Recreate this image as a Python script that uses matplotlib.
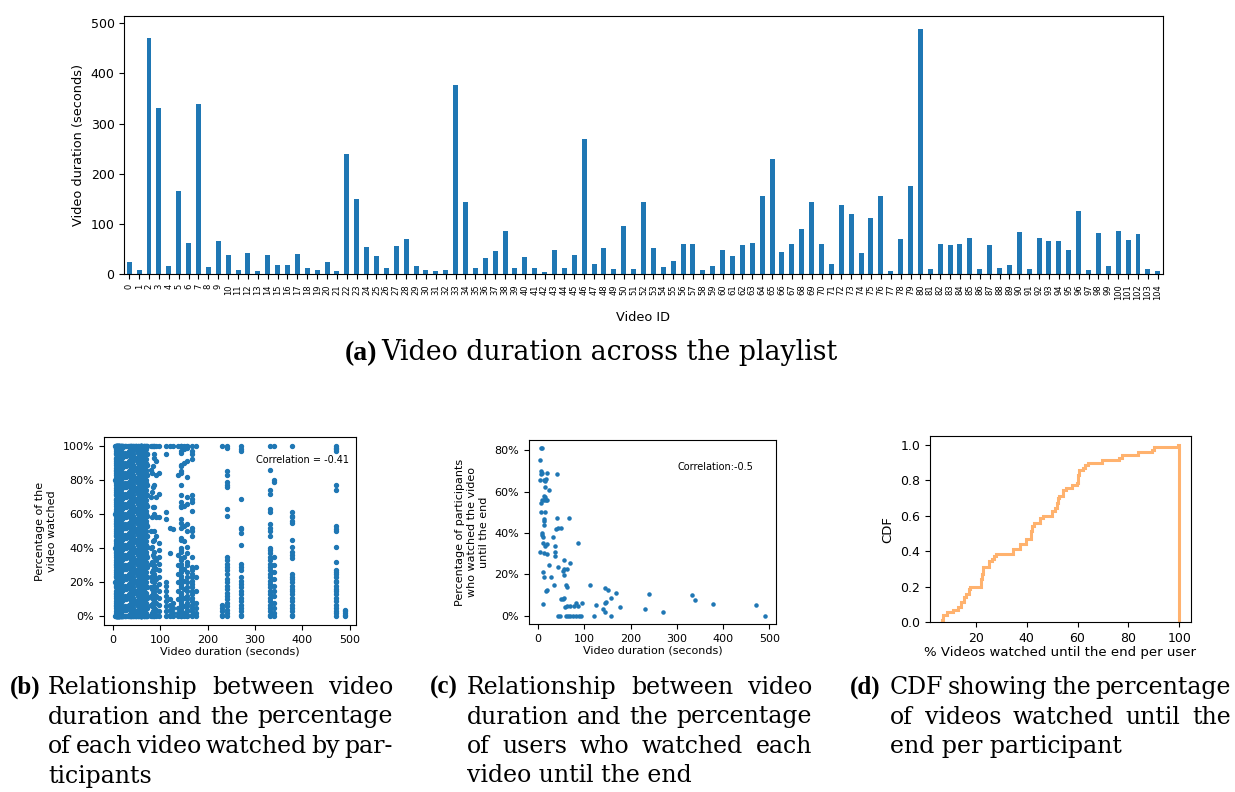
import numpy as np
import matplotlib
matplotlib.use("Agg")
import matplotlib.pyplot as plt
from matplotlib.ticker import PercentFormatter

# (a) duration of every video in the playlist (seconds)
video_duration = [25, 9, 471, 331, 17, 166, 62, 339, 15, 66,
                  38, 9, 42, 7, 38, 19, 19, 40, 13, 9,
                  25, 7, 240, 150, 54, 36, 13, 56, 70, 17,
                  9, 7, 9, 377, 144, 13, 32, 46, 86, 13,
                  34, 13, 5, 48, 13, 38, 270, 21, 52, 11,
                  96, 11, 144, 52, 15, 27, 60, 60, 9, 17,
                  48, 36, 58, 62, 156, 230, 44, 60, 90, 144,
                  60, 21, 138, 120, 42, 112, 156, 7, 70, 176,
                  489, 11, 60, 58, 60, 72, 11, 58, 13, 19,
                  84, 11, 72, 66, 66, 48, 126, 9, 82, 17,
                  86, 68, 80, 11, 7]
video_ids = list(range(len(video_duration)))

# (b) percentage of each video watched, one string per video (estimated)
watched_pct = [
    "100 94 88 82 76 70 64 58 52 46 40 34 28 22 16 10 4 0",
    "100 97 91 85 79 73 67 61 55 49 43 37 31 25 19 13 7 1 0",
    "100 99 98 97 77 74 53 51 50 41 32 27 26 25 23 21 20 18 16 15 13 11 9 7 5 3 2 0",
    "100 86 74 72 63 61 54 52 50 47 40 39 37 35 33 31 29 27 25 23 21 19 17 15 13 11 9 7 5 3 1 0",
    "100 95 89 83 77 71 65 59 53 47 41 35 29 23 17 11 5 0",
    "100 97 95 92 71 69 67 62 52 50 47 35 29 27 25 23 21 19 17 15 13 11 9 7 5 3 1 0",
    "100 98 92 86 80 74 68 62 56 50 44 38 32 26 20 14 8 2 0",
    "100 80 79 35 30 26 22 18 15 12 8 5 2 0",
    "100 96 90 84 78 72 66 60 54 48 42 36 30 24 18 12 6 0",
    "100 99 93 87 81 75 69 63 57 51 45 39 33 27 21 15 9 3 0",
    "100 94 88 82 76 70 64 58 52 46 40 34 28 22 16 10 4 0",
    "100 97 91 85 79 73 67 61 55 49 43 37 31 25 19 13 7 1 0",
    "100 95 89 83 77 71 65 59 53 47 41 35 29 23 17 11 5 0",
    "100 98 92 86 80 74 68 62 56 50 44 38 32 26 20 14 8 2 0",
    "100 96 90 84 78 72 66 60 54 48 42 36 30 24 18 12 6 0",
    "100 99 93 87 81 75 69 63 57 51 45 39 33 27 21 15 9 3 0",
    "100 94 88 82 76 70 64 58 52 46 40 34 28 22 16 10 4 0",
    "100 97 91 85 79 73 67 61 55 49 43 37 31 25 19 13 7 1 0",
    "100 95 89 83 77 71 65 59 53 47 41 35 29 23 17 11 5 0",
    "100 98 92 86 80 74 68 62 56 50 44 38 32 26 20 14 8 2 0",
    "100 96 90 84 78 72 66 60 54 48 42 36 30 24 18 12 6 0",
    "100 99 93 87 81 75 69 63 57 51 45 39 33 27 21 15 9 3 0",
    "100 99 85 83 79 77 76 63 59 35 33 31 29 27 25 22 20 18 16 14 12 10 8 6 4 2 0",
    "100 98 90 65 53 44 35 28 21 16 11 6 2 0",
    "100 94 88 82 76 70 64 58 52 46 40 34 28 22 16 10 4 0",
    "100 97 91 85 79 73 67 61 55 49 43 37 31 25 19 13 7 1 0",
    "100 95 89 83 77 71 65 59 53 47 41 35 29 23 17 11 5 0",
    "100 98 92 86 80 74 68 62 56 50 44 38 32 26 20 14 8 2 0",
    "100 96 90 84 78 72 66 60 54 48 42 36 30 24 18 12 6 0",
    "100 99 93 87 81 75 69 63 57 51 45 39 33 27 21 15 9 3 0",
    "100 94 88 82 76 70 64 58 52 46 40 34 28 22 16 10 4 0",
    "100 97 91 85 79 73 67 61 55 49 43 37 31 25 19 13 7 1 0",
    "100 95 89 83 77 71 65 59 53 47 41 35 29 23 17 11 5 0",
    "100 61 59 58 56 55 45 41 38 36 34 25 23 22 20 18 16 15 13 11 9 7 5 3 1 0",
    "100 97 89 84 65 57 46 40 33 27 22 17 12 8 4 0",
    "100 98 92 86 80 74 68 62 56 50 44 38 32 26 20 14 8 2 0",
    "100 96 90 84 78 72 66 60 54 48 42 36 30 24 18 12 6 0",
    "100 99 93 87 81 75 69 63 57 51 45 39 33 27 21 15 9 3 0",
    "100 93 77 64 50 45 35 30 25 20 15 10 5 0",
    "100 94 88 82 76 70 64 58 52 46 40 34 28 22 16 10 4 0",
    "100 97 91 85 79 73 67 61 55 49 43 37 31 25 19 13 7 1 0",
    "100 95 89 83 77 71 65 59 53 47 41 35 29 23 17 11 5 0",
    "100 80 60 40 20 0",
    "100 98 92 86 80 74 68 62 56 50 44 38 32 26 20 14 8 2 0",
    "100 96 90 84 78 72 66 60 54 48 42 36 30 24 18 12 6 0",
    "100 99 93 87 81 75 69 63 57 51 45 39 33 27 21 15 9 3 0",
    "100 98 97 69 52 51 49 42 31 29 27 23 21 19 17 15 13 11 9 7 5 3 1 0",
    "100 94 88 82 76 70 64 58 52 46 40 34 28 22 16 10 4 0",
    "100 97 91 85 79 73 67 61 55 49 43 37 31 25 19 13 7 1 0",
    "100 95 89 83 77 71 65 59 53 47 41 35 29 23 17 11 5 0",
    "100 84 72 58 43 39 35 31 27 23 19 15 11 7 3 0",
    "100 98 92 86 80 74 68 62 56 50 44 38 32 26 20 14 8 2 0",
    "100 96 88 85 71 64 55 45 38 31 26 19 14 9 5 1 0",
    "100 96 90 84 78 72 66 60 54 48 42 36 30 24 18 12 6 0",
    "100 99 93 87 81 75 69 63 57 51 45 39 33 27 21 15 9 3 0",
    "100 94 88 82 76 70 64 58 52 46 40 34 28 22 16 10 4 0",
    "100 97 91 85 79 73 67 61 55 49 43 37 31 25 19 13 7 1 0",
    "100 95 89 83 77 71 65 59 53 47 41 35 29 23 17 11 5 0",
    "100 98 92 86 80 74 68 62 56 50 44 38 32 26 20 14 8 2 0",
    "100 96 90 84 78 72 66 60 54 48 42 36 30 24 18 12 6 0",
    "100 99 93 87 81 75 69 63 57 51 45 39 33 27 21 15 9 3 0",
    "100 94 88 82 76 70 64 58 52 46 40 34 28 22 16 10 4 0",
    "100 97 91 85 79 73 67 61 55 49 43 37 31 25 19 13 7 1 0",
    "100 95 89 83 77 71 65 59 53 47 41 35 29 23 17 11 5 0",
    "100 99 82 66 54 41 32 26 20 15 10 6 3 0",
    "100 7 5 3 1 0",
    "100 98 92 86 80 74 68 62 56 50 44 38 32 26 20 14 8 2 0",
    "100 96 90 84 78 72 66 60 54 48 42 36 30 24 18 12 6 0",
    "100 91 83 70 58 47 33 28 22 17 12 8 4 1 0",
    "100 77 67 52 39 34 29 24 18 13 7 3 0",
    "100 99 93 87 81 75 69 63 57 51 45 39 33 27 21 15 9 3 0",
    "100 94 88 82 76 70 64 58 52 46 40 34 28 22 16 10 4 0",
    "100 83 36 30 25 20 15 10 5 2 0",
    "100 52 37 10 7 4 1 0",
    "100 97 91 85 79 73 67 61 55 49 43 37 31 25 19 13 7 1 0",
    "100 95 61 57 20 18 15 12 9 6 3 0",
    "100 91 70 50 37 30 23 17 12 8 4 1 0",
    "100 95 89 83 77 71 65 59 53 47 41 35 29 23 17 11 5 0",
    "100 98 92 86 80 74 68 62 56 50 44 38 32 26 20 14 8 2 0",
    "100 29 23 15 8 5 2 0",
    "4 3 2 1 0",
    "100 96 90 84 78 72 66 60 54 48 42 36 30 24 18 12 6 0",
    "100 99 93 87 81 75 69 63 57 51 45 39 33 27 21 15 9 3 0",
    "100 94 88 82 76 70 64 58 52 46 40 34 28 22 16 10 4 0",
    "100 97 91 85 79 73 67 61 55 49 43 37 31 25 19 13 7 1 0",
    "100 95 89 83 77 71 65 59 53 47 41 35 29 23 17 11 5 0",
    "100 98 92 86 80 74 68 62 56 50 44 38 32 26 20 14 8 2 0",
    "100 96 90 84 78 72 66 60 54 48 42 36 30 24 18 12 6 0",
    "100 99 93 87 81 75 69 63 57 51 45 39 33 27 21 15 9 3 0",
    "100 94 88 82 76 70 64 58 52 46 40 34 28 22 16 10 4 0",
    "100 88 76 64 44 36 27 21 14 8 3 0",
    "100 97 91 85 79 73 67 61 55 49 43 37 31 25 19 13 7 1 0",
    "100 95 89 83 77 71 65 59 53 47 41 35 29 23 17 11 5 0",
    "100 98 92 86 80 74 68 62 56 50 44 38 32 26 20 14 8 2 0",
    "100 96 90 84 78 72 66 60 54 48 42 36 30 24 18 12 6 0",
    "100 99 93 87 81 75 69 63 57 51 45 39 33 27 21 15 9 3 0",
    "100 51 8 5 2 0",
    "100 94 88 82 76 70 64 58 52 46 40 34 28 22 16 10 4 0",
    "100 84 73 58 41 32 26 21 16 11 6 2 0",
    "100 97 91 85 79 73 67 61 55 49 43 37 31 25 19 13 7 1 0",
    "100 95 60 38 29 24 18 13 9 5 2 0",
    "100 95 89 83 77 71 65 59 53 47 41 35 29 23 17 11 5 0",
    "100 86 70 50 40 31 23 17 12 7 1 0",
    "100 98 92 86 80 74 68 62 56 50 44 38 32 26 20 14 8 2 0",
    "100 96 90 84 78 72 66 60 54 48 42 36 30 24 18 12 6 0",
]

# (c) duration vs share of participants who watched until the end
c_duration = [6, 9, 4, 7, 8, 6, 19, 40, 5, 13, 17, 16, 14, 24, 13, 14, 17, 9,
              12, 20, 6, 7, 16, 12, 13, 12, 40, 67, 39, 43, 49, 8, 9, 10, 11,
              14, 20, 86, 32, 5, 13, 20, 36, 37, 37, 56, 69, 24, 44, 62, 56,
              53, 55, 10, 27, 12, 34, 60, 62, 20, 17, 112, 145, 151, 168, 240,
              332, 340, 378, 471, 490, 270, 231, 178, 157, 145, 147, 126, 140,
              145, 121, 158, 96, 82, 86, 10, 49, 53, 56, 59, 63, 70, 77, 43,
              48, 60, 65, 70, 75, 83, 88, 92]
c_completion = [81, 81, 75.5, 70, 69, 68.5, 69, 68.5, 65.5, 65.5, 66, 65, 62.5,
                61, 58, 57.5, 56, 56, 56, 56, 54.5, 50, 50, 47, 46, 44, 47.5,
                47.5, 42, 42.5, 42.5, 40, 39, 38, 35, 33.5, 34.5, 35, 38, 31,
                30.5, 30, 33.5, 31, 29, 27, 25.5, 24.5, 23.5, 22.5, 22.5, 21.5,
                19.5, 21, 18.5, 18.5, 15, 15, 14, 12.5, 12, 15, 13.5, 12.5, 11,
                10.5, 10, 7.5, 5.6, 5, 0, 1.8, 3, 4, 8.5, 6, 6.5, 5.3, 3.4, 2,
                0, 0, 6, 6, 4.5, 5.6, 8, 8, 8.5, 4.3, 4.6, 4.6, 4.6, 0, 0, 0,
                0, 0, 0, 0, 0, 0]

# (d) % of videos watched until the end, per participant
user_pct = [6.6, 7.4, 7.4, 8.7, 11, 13.4, 14.5, 14.5, 15.5, 15.5, 16.3, 17.4,
            17.4, 17.9, 22.1, 22.1, 22.1, 22.9, 22.9, 23.4, 23.4, 23.4, 25.5,
            25.5, 26.3, 27.3, 28.1, 34.9, 34.9, 37.6, 37.6, 39.9, 39.9, 41.8,
            41.8, 41.8, 42.3, 42.3, 43.3, 45.7, 45.7, 46.5, 50.1, 50.1, 51.2,
            52, 52, 52.5, 52.5, 53.3, 54.4, 54.4, 55.7, 58.1, 59.9, 60.7, 60.7,
            60.7, 61.2, 61.2, 62.2, 63.5, 64.3, 70.1, 76.2, 78, 84, 89.7, 90.5,
            100]

W, H = 1235, 792
SERIF = "DejaVu Serif"
SERIF_BOLD = "Liberation Serif"


def rect(l, t, r, b):
    return [l / W, 1 - b / H, (r - l) / W, (b - t) / H]


fig = plt.figure(figsize=(W / 100, H / 100), dpi=100)

# ---- (a) bar chart
ax = fig.add_axes(rect(124.3, 16.3, 1162.7, 274.3))
ax.bar(video_ids, video_duration, width=0.5, color="C0")
ax.set_xlim(-0.5, len(video_ids) - 0.5)
ax.set_xticks(video_ids)
ax.set_xticklabels([str(i) for i in video_ids], rotation=90, fontsize=6)
ax.tick_params(axis="y", labelsize=9)
ax.set_ylabel("Video duration (seconds)", fontsize=9.3)
ax.set_xlabel("Video ID", fontsize=9.3, labelpad=8)

# ---- (b) scatter, every view
ax_b = fig.add_axes(rect(104, 437.3, 356, 625))
for dur, vals in zip(video_duration, watched_pct):
    pct = [float(v) for v in vals.split()]
    ax_b.scatter([dur] * len(pct), pct, s=8, color="C0")
ax_b.yaxis.set_major_formatter(PercentFormatter(100, decimals=0))
ax_b.tick_params(labelsize=8)
ax_b.set_xlabel("Video duration (seconds)", fontsize=8, labelpad=1)
ax_b.set_ylabel("Percentage of the\nvideo watched", fontsize=8)
ax_b.text(0.603, 0.878, "Correlation = -0.41", transform=ax_b.transAxes,
          fontsize=7, va="center")

# ---- (c) scatter, completion per video
ax_c = fig.add_axes(rect(528.7, 440, 776, 624))
ax_c.scatter(c_duration, c_completion, s=5, color="C0")
ax_c.yaxis.set_major_formatter(PercentFormatter(100, decimals=0))
ax_c.tick_params(labelsize=8)
ax_c.set_xlabel("Video duration (seconds)", fontsize=8, labelpad=1)
ax_c.set_ylabel("Percentage of participants\nwho watched the video\nuntil the end",
                fontsize=8)
ax_c.text(0.602, 0.852, "Correlation:-0.5", transform=ax_c.transAxes,
          fontsize=7, va="center")

# ---- (d) CDF
ax_d = fig.add_axes(rect(930, 436, 1191, 622.3))
ax_d.hist(user_pct, bins=200, density=True, cumulative=True, histtype="step",
          color="C1", alpha=0.6, linewidth=2.2)
ax_d.tick_params(labelsize=9)
ax_d.set_xlabel("% Videos watched until the end per user", fontsize=9.5, labelpad=1)
ax_d.set_ylabel("CDF", fontsize=9.5)

# ---- captions
renderer = fig.canvas.get_renderer()


def caption(label, lines, x_label, x_text, x_right, y_first, size=17, gap=29.5):
    fig.text(x_label / W, 1 - y_first / H, label, family=SERIF_BOLD, weight="bold",
             size=size + 1, va="baseline")
    for i, line in enumerate(lines):
        y = 1 - (y_first + i * gap) / H
        words = line.split()
        if i == len(lines) - 1 or len(words) < 2:
            fig.text(x_text / W, y, line, family=SERIF, size=size, va="baseline")
            continue
        texts = [fig.text(0, y, w, family=SERIF, size=size, va="baseline") for w in words]
        widths = [t.get_window_extent(renderer).width for t in texts]
        space = (x_right - x_text - sum(widths)) / (len(words) - 1)
        x = x_text
        for t, w in zip(texts, widths):
            t.set_x(x / W)
            x += w + space


fig.text(345 / W, 1 - 360 / H, "(a)", family=SERIF_BOLD, weight="bold", size=20,
         va="baseline")
fig.text(381 / W, 1 - 360 / H, "Video duration across the playlist", family=SERIF,
         size=19.3, va="baseline")

caption("(b)", ["Relationship between video", "duration and the percentage",
                "of each video watched by par-", "ticipants"], 10, 48, 393, 694)
caption("(c)", ["Relationship between video", "duration and the percentage",
                "of users who watched each", "video until the end"], 430, 467, 812, 694)
caption("(d)", ["CDF showing the percentage", "of videos watched until the",
                "end per participant"], 850, 890, 1231, 694)

fig.savefig("out.png", dpi=100)
